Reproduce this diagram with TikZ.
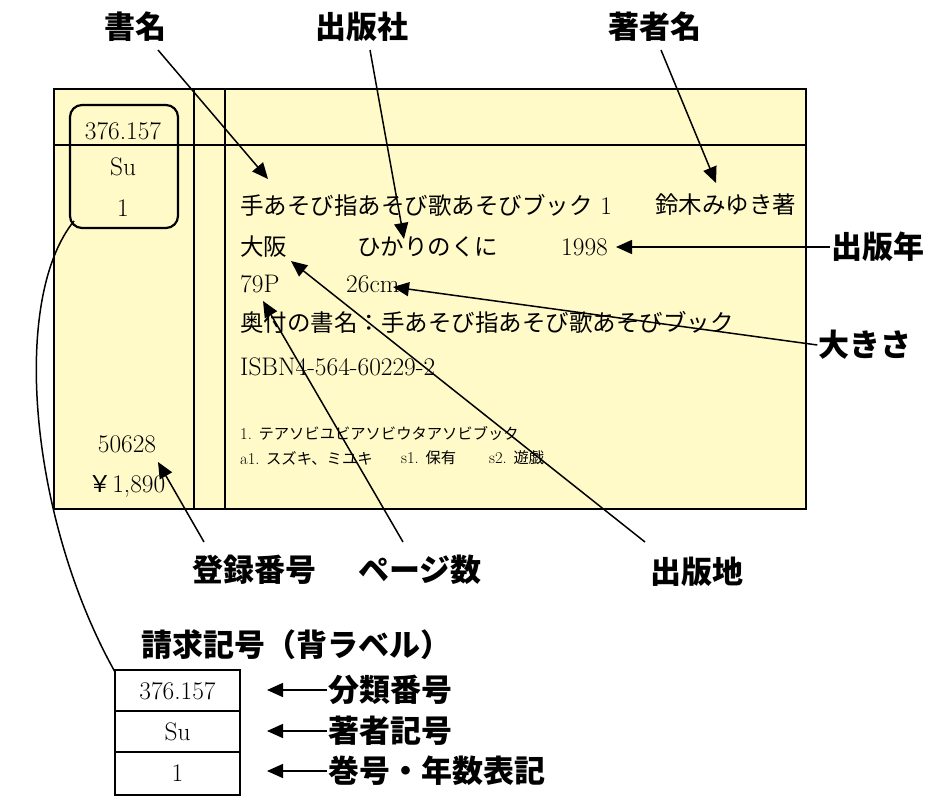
\documentclass[tikz,border=0pt]{standalone}
\usepackage{fontspec}
\setmainfont{Latin Modern Roman}[Scale=1.08]
\newfontfamily\jp{Noto Sans CJK JP}
\usetikzlibrary{arrows.meta}
\definecolor{cardbg}{HTML}{FFFAC8}
\tikzset{
  cardtxt/.style={anchor=west,inner sep=0pt,font=\fontsize{23.5}{26}\selectfont},
  ctr/.style={inner sep=0pt,font=\fontsize{23.5}{26}\selectfont},
  small/.style={anchor=west,inner sep=0pt,font=\fontsize{15.3}{18}\selectfont},
  lab/.style={inner sep=1pt,font=\fontsize{31}{34}\selectfont\jp\bfseries},
  arr/.style={line width=1.5pt,-{Triangle[length=16pt,width=14pt]}},
  frame/.style={line width=1.6pt}
}
\begin{document}
\begin{tikzpicture}[x=1pt,y=-1pt]
\useasboundingbox (0,0) rectangle (940,800);
% card
\draw[frame,fill=cardbg] (54,89) rectangle (806,509);
\draw[frame] (54,145) -- (806,145);
\draw[frame] (194,89) -- (194,509);
\draw[frame] (225,89) -- (225,509);
\draw[line width=2.2pt,rounded corners=12pt] (70,105) rectangle (178,228);
\coordinate (rbc) at (74,221);
% left column
\node[ctr] (c1) at (123,131) {376.157};
\node[ctr] (c2) at (123,167) {Su};
\node[ctr] (c3) at (123,208) {1};
\node[ctr] (reg) at (127,444) {50628};
\node[ctr] (price) at (127,486) {{\jp ￥}1,890};
% main text
\node[cardtxt] (title) at (240,205) {{\jp 手あそび指あそび歌あそびブック}\ 1};
\node[cardtxt] (auth) at (655,205) {\jp 鈴木みゆき著};
\node[cardtxt] (place) at (240,247) {\jp 大阪};
\node[cardtxt] (pub) at (357,247) {\jp ひかりのくに};
\node[cardtxt] (year) at (561,247) {1998};
\node[cardtxt] (pages) at (240,284) {79P};
\node[cardtxt] (size) at (346,284) {26cm};
\node[cardtxt] (okut) at (240,322) {\jp 奥付の書名：手あそび指あそび歌あそびブック};
\node[cardtxt] (isbn) at (240,367) {ISBN4-564-60229-2};
\node[small] (t1) at (240,434) {1. {\jp テアソビユビアソビウタアソビブック}};
\node[small] (t2) at (240,458) {a1. {\jp スズキ、ミユキ}};
\node[small] (t3) at (401,458) {s1. {\jp 保有}};
\node[small] (t4) at (489,458) {s2. {\jp 遊戯}};
% labels
\node[lab] (Lshomei) at (135,27) {書名};
\node[lab] (Lpub) at (362,27) {出版社};
\node[lab] (Lauth) at (655,27) {著者名};
\node[lab] (Lyear) at (878,247) {出版年};
\node[lab] (Lsize) at (865,345) {大きさ};
\node[lab] (Lplace) at (697,572) {出版地};
\node[lab] (Lreg) at (254,570) {登録番号};
\node[lab] (Lpage) at (420,570) {ページ数};
\node[lab] (Lcall) at (296,645) {請求記号（背ラベル）};
\node[lab,anchor=west] (Lcls) at (327,690) {分類番号};
\node[lab,anchor=west] (Lauc) at (327,731) {著者記号};
\node[lab,anchor=west] (Lvol) at (327,771) {巻号・年数表記};
% arrows
\coordinate (a1) at (268,179);
\coordinate (a2) at (404,239);
\coordinate (a3) at (716,183);
\coordinate (a4) at (616,247);
\coordinate (a5) at (393,287);
\coordinate (a6) at (291,261);
\coordinate (a7) at (263,301);
\coordinate (a8) at (158,462);
\draw[arr] (158,50) -- (a1);
\draw[arr] (370,50) -- (a2);
\draw[arr] (661,50) -- (a3);
\draw[arr] (Lyear.west) -- (a4);
\draw[arr] (Lsize.west) -- (a5);
\draw[arr] (645,542) -- (a6);
\draw[arr] (403,542) -- (a7);
\draw[arr] (204,542) -- (a8);
% spine label
\draw[frame] (115,670) rectangle (240,795);
\draw[frame] (115,711) -- (240,711);
\draw[frame] (115,752) -- (240,752);
\node[ctr] (s1) at (177.5,691) {376.157};
\node[ctr] (s2) at (177.5,732) {Su};
\node[ctr] (s3) at (177.5,773) {1};
\coordinate (sp) at (115,672);
\draw[line width=1.5pt] (rbc) .. controls (10,300) and (30,520) .. (sp);
\draw[arr] (Lcls.west) -- ++(-60,0);
\draw[arr] (Lauc.west) -- ++(-60,0);
\draw[arr] (Lvol.west) -- ++(-60,0);
\end{tikzpicture}
\end{document}
